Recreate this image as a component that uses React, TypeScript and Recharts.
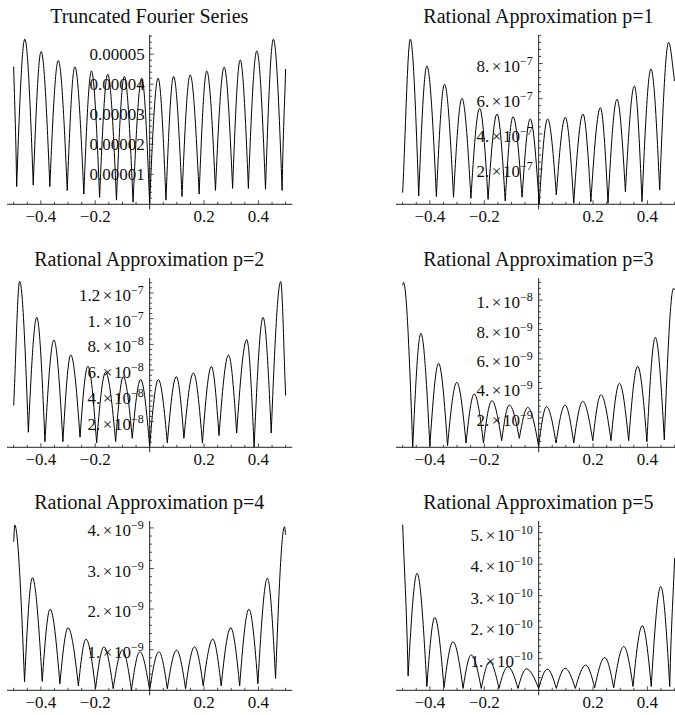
import React from "react";
import { LineChart, Line, XAxis, YAxis, ReferenceLine } from "recharts";

// extrema of each error curve (x in [-0.5, 0.5], y in panel units)
const fourierX = [-0.5, -0.489, -0.459, -0.428, -0.399, -0.367, -0.336, -0.303, -0.275, -0.242, -0.214, -0.184, -0.154, -0.122, -0.093, -0.061, -0.029, 0, 0.031, 0.06, 0.088, 0.119, 0.149, 0.182, 0.21, 0.242, 0.274, 0.305, 0.333, 0.363, 0.394, 0.426, 0.455, 0.487, 0.5];
const fourierY = [4.59, 0.59, 5.5, 0.64, 5.09, 0.59, 4.79, 0.46, 4.58, 0.34, 4.44, 0.23, 4.33, 0.14, 4.26, 0.07, 4.2, 0.02, 4.2, 0.14, 4.26, 0.26, 4.31, 0.34, 4.44, 0.46, 4.57, 0.53, 4.81, 0.53, 5.11, 0.5, 5.5, 0.46, 4.51];

const p1X = [-0.5, -0.472, -0.441, -0.411, -0.376, -0.346, -0.313, -0.282, -0.249, -0.217, -0.186, -0.153, -0.123, -0.094, -0.061, -0.031, 0.002, 0.033, 0.065, 0.098, 0.129, 0.163, 0.192, 0.227, 0.255, 0.288, 0.319, 0.352, 0.38, 0.413, 0.445, 0.478, 0.5];
const p1Y = [0.66, 9.38, 0.47, 7.86, 0.44, 6.82, 0.4, 6.02, 0.34, 5.45, 0.28, 5.13, 0.19, 4.98, 0.4, 4.85, 0, 4.85, 0.53, 4.94, 0.06, 5.13, 0.15, 5.49, 0.06, 5.97, 0.72, 6.72, 0.15, 7.69, 0.81, 9.2, 7.0];

const p2X = [-0.5, -0.478, -0.446, -0.415, -0.385, -0.352, -0.319, -0.29, -0.256, -0.227, -0.195, -0.162, -0.125, -0.097, -0.064, -0.033, 0, 0.032, 0.065, 0.098, 0.126, 0.161, 0.194, 0.227, 0.255, 0.29, 0.32, 0.357, 0.384, 0.417, 0.447, 0.482, 0.5];
const p2Y = [3.24, 12.9, 1.17, 10.1, 0.44, 8.34, 0.44, 7.18, 0.78, 6.3, 0.34, 5.83, 0.44, 5.49, 0.7, 5.26, 0.08, 5.26, 0.34, 5.49, 0.7, 5.78, 0.34, 6.27, 0.91, 7.18, 1.11, 8.37, 0, 10.1, 1.11, 12.88, 4.02];

const p3X = [-0.5, -0.497, -0.463, -0.433, -0.4, -0.368, -0.335, -0.301, -0.267, -0.237, -0.203, -0.172, -0.136, -0.108, -0.071, -0.04, 0, 0.029, 0.064, 0.097, 0.129, 0.162, 0.199, 0.229, 0.266, 0.297, 0.331, 0.364, 0.398, 0.429, 0.462, 0.496, 0.5];
const p3Y = [11.0, 11.2, 0, 7.74, 0.07, 5.7, 0.11, 4.41, 0.29, 3.62, 0.29, 3.17, 0.45, 2.87, 0.61, 2.71, 0.07, 2.76, 0.29, 2.87, 0.29, 3.12, 0.45, 3.57, 0.45, 4.34, 0.45, 5.5, 0.38, 7.47, 0.5, 10.8, 10.7];

const p4X = [-0.5, -0.496, -0.46, -0.431, -0.395, -0.366, -0.33, -0.3, -0.262, -0.234, -0.199, -0.168, -0.134, -0.1, -0.067, -0.036, 0, 0.034, 0.065, 0.099, 0.132, 0.165, 0.197, 0.232, 0.263, 0.298, 0.331, 0.365, 0.398, 0.433, 0.463, 0.496, 0.5];
const p4Y = [3.66, 4.07, 0.21, 2.77, 0.22, 2.0, 0.16, 1.54, 0.11, 1.26, 0.04, 1.07, 0.04, 0.99, 0, 0.95, 0, 0.95, 0.04, 0.99, 0.04, 1.07, 0.11, 1.26, 0.11, 1.54, 0.11, 2.0, 0.16, 2.76, 0.29, 4.03, 3.83];

const p5X = [-0.5, -0.48, -0.447, -0.411, -0.382, -0.348, -0.315, -0.278, -0.248, -0.211, -0.18, -0.146, -0.113, -0.076, -0.045, 0, 0.032, 0.065, 0.097, 0.135, 0.173, 0.206, 0.243, 0.276, 0.313, 0.347, 0.381, 0.414, 0.449, 0.482, 0.5];
const p5Y = [5.25, 0.46, 3.71, 0.12, 2.31, 0.08, 1.54, 0.06, 1.12, 0.06, 0.91, 0.06, 0.75, 0.06, 0.68, 0.06, 0.67, 0.06, 0.7, 0.06, 0.8, 0.08, 1.04, 0.08, 1.39, 0.12, 2.05, 0.12, 3.29, 0.12, 4.19];

const titles = [
  "Truncated Fourier Series",
  "Rational Approximation p=1",
  "Rational Approximation p=2",
  "Rational Approximation p=3",
  "Rational Approximation p=4",
  "Rational Approximation p=5",
];
const seriesX = [fourierX, p1X, p2X, p3X, p4X, p5X];
const seriesY = [fourierY, p1Y, p2Y, p3Y, p4Y, p5Y];
const yTops = [5.64, 9.62, 13.16, 11.5, 4.17, 5.37];
const yMajors = [[1, 2, 3, 4, 5], [2, 4, 6, 8], [2, 4, 6, 8, 10, 12], [2, 4, 6, 8, 10], [1, 2, 3, 4], [1, 2, 3, 4, 5]];
const yMinorStep = [0.2, 0.4, 0.4, 0.4, 0.2, 0.2];
const yMantissa = [
  ["0.00001", "0.00002", "0.00003", "0.00004", "0.00005"],
  ["2.", "4.", "6.", "8."],
  ["2.", "4.", "6.", "8.", "1.", "1.2"],
  ["2.", "4.", "6.", "8.", "1."],
  ["1.", "2.", "3.", "4."],
  ["1.", "2.", "3.", "4.", "5."],
];
const yExponent = [
  [],
  ["−7", "−7", "−7", "−7"],
  ["−8", "−8", "−8", "−8", "−7", "−7"],
  ["−9", "−9", "−9", "−9", "−8"],
  ["−9", "−9", "−9", "−9"],
  ["−10", "−10", "−10", "−10", "−10"],
];

const xTicks = [-0.5, -0.45, -0.4, -0.35, -0.3, -0.25, -0.2, -0.15, -0.1, -0.05, 0.05, 0.1, 0.15, 0.2, 0.25, 0.3, 0.35, 0.4, 0.45, 0.5];
const xLabelTicks = [-0.4, -0.2, 0.2, 0.4];
const xLabels = ["−0.4", "−0.2", "0.2", "0.4"];

const FONT = "'Liberation Serif', 'Times New Roman', serif";
const AXIS = "#222";
const TICK_FS = 17;
const XR = 0.5245; // axis runs a little past the sampled interval
const PW = 285.3; // plot width for [-XR, XR]
const PH0 = 169.3; // px from y=0 up to the top of the range
const BELOW = 5; // y axis pokes below the x axis
const M = 10;

// cusp-at-troughs, round-at-peaks path through the extrema
const lobeCurve = (context: any) => {
  let pts: number[][] = [];
  const kind = (i: number) => {
    const a = pts[i - 1];
    const b = pts[i + 1];
    if (!a || !b) return 0;
    const y = pts[i][1];
    if (y <= a[1] && y <= b[1]) return 1;
    if (y >= a[1] && y >= b[1]) return -1;
    return 0;
  };
  const tangent = (i: number, s: number) => {
    const k = kind(i);
    if (k === 1) return 0;
    return k === -1 ? (Math.PI / 2) * s : s;
  };
  return {
    areaStart() {},
    areaEnd() {},
    lineStart() {
      pts = [];
    },
    point(x: number, y: number) {
      pts.push([+x, +y]);
    },
    lineEnd() {
      if (!pts.length) return;
      context.moveTo(pts[0][0], pts[0][1]);
      for (let i = 0; i < pts.length - 1; i++) {
        const [x0, y0] = pts[i];
        const [x1, y1] = pts[i + 1];
        const dx = x1 - x0;
        const s = (y1 - y0) / dx;
        const m0 = tangent(i, s);
        const m1 = tangent(i + 1, s);
        context.bezierCurveTo(x0 + dx / 3, y0 + (m0 * dx) / 3, x1 - dx / 3, y1 - (m1 * dx) / 3, x1, y1);
      }
    },
  };
};

const XTick = (props: any) => {
  const { x, y, payload } = props;
  const li = xLabelTicks.findIndex((t) => Math.abs(t - payload.value) < 1e-6);
  const y0 = y - BELOW;
  return (
    <g>
      <line x1={x} x2={x} y1={y0} y2={y0 - (li >= 0 ? 4 : 2.5)} stroke={AXIS} strokeWidth={0.8} />
      {li >= 0 && (
        <text x={x} y={y0 + 17.5} textAnchor="middle" fontSize={TICK_FS} fontFamily={FONT} fill="#111">
          {xLabels[li]}
        </text>
      )}
    </g>
  );
};

const makeYTick = (idx: number) => (props: any) => {
  const { x, y, payload } = props;
  const cx = x + PW / 2;
  const mi = yMajors[idx].findIndex((m) => Math.abs(m - payload.value) < 1e-6);
  const exp = yExponent[idx][mi];
  return (
    <g>
      <line x1={cx} x2={cx + (mi >= 0 ? 4 : 2.5)} y1={y} y2={y} stroke={AXIS} strokeWidth={0.8} />
      {mi >= 0 && !exp && (
        <text x={cx - 5} y={y + 6} textAnchor="end" fontSize={TICK_FS} fontFamily={FONT} fill="#111">
          {yMantissa[idx][mi]}
        </text>
      )}
      {mi >= 0 && exp && (
        <text x={cx - 6} y={y + 8} textAnchor="end" fontSize={TICK_FS} fontFamily={FONT} fill="#111">
          {yMantissa[idx][mi]}
          <tspan dx={2.5}>×</tspan>
          <tspan dx={1.5}>10</tspan>
          <tspan dy={-7} fontSize={12}>
            {exp}
          </tspan>
        </text>
      )}
    </g>
  );
};

function Panel({ idx }: { idx: number }) {
  const col = idx % 2;
  const row = Math.floor(idx / 2);
  const plotLeft = col === 0 ? 6.6 : 395.8;
  const plotTop = 35 + 243 * row;
  const top = yTops[idx];
  const bottom = -(top * BELOW) / PH0;
  const data = seriesX[idx].map((x, i) => ({ x, y: seriesY[idx][i] }));
  const ticks: number[] = [];
  for (let k = 1; k * yMinorStep[idx] <= top + 1e-9; k++) {
    ticks.push(Math.round(k * yMinorStep[idx] * 1000) / 1000);
  }
  const centerX = plotLeft + PW / 2;
  return (
    <>
      <div
        style={{
          position: "absolute",
          left: centerX - 160,
          top: 6 + 243 * row,
          width: 320,
          textAlign: "center",
          fontSize: 20,
          lineHeight: "20px",
          fontFamily: FONT,
          color: "#111",
          whiteSpace: "nowrap",
        }}
      >
        {titles[idx]}
      </div>
      <div style={{ position: "absolute", left: plotLeft - M, top: plotTop - M }}>
        <LineChart
          width={PW + 2 * M}
          height={PH0 + BELOW + M + 30}
          data={data}
          margin={{ top: M, right: M, bottom: 0, left: M - 1 }}
        >
          <XAxis
            dataKey="x"
            type="number"
            domain={[-XR, XR]}
            allowDataOverflow
            ticks={xTicks}
            interval={0}
            axisLine={false}
            tickLine={false}
            tickSize={0}
            tickMargin={0}
            height={30}
            tick={XTick}
          />
          <YAxis
            type="number"
            domain={[bottom, top]}
            allowDataOverflow
            ticks={ticks}
            interval={0}
            axisLine={false}
            tickLine={false}
            tickSize={0}
            tickMargin={0}
            width={1}
            tick={makeYTick(idx)}
          />
          <ReferenceLine y={0} stroke={AXIS} strokeWidth={1} />
          <ReferenceLine x={0} stroke={AXIS} strokeWidth={1} />
          <Line
            dataKey="y"
            type={lobeCurve as any}
            stroke="#000"
            strokeWidth={1}
            dot={false}
            activeDot={false}
            isAnimationActive={false}
          />
        </LineChart>
      </div>
    </>
  );
}

export default function App() {
  return (
    <div
      style={{
        position: "absolute",
        left: 0,
        top: 0,
        width: 675,
        height: 715,
        overflow: "hidden",
        background: "#fff",
        fontFamily: FONT,
      }}
    >
      {titles.map((_, i) => (
        <Panel key={i} idx={i} />
      ))}
    </div>
  );
}
